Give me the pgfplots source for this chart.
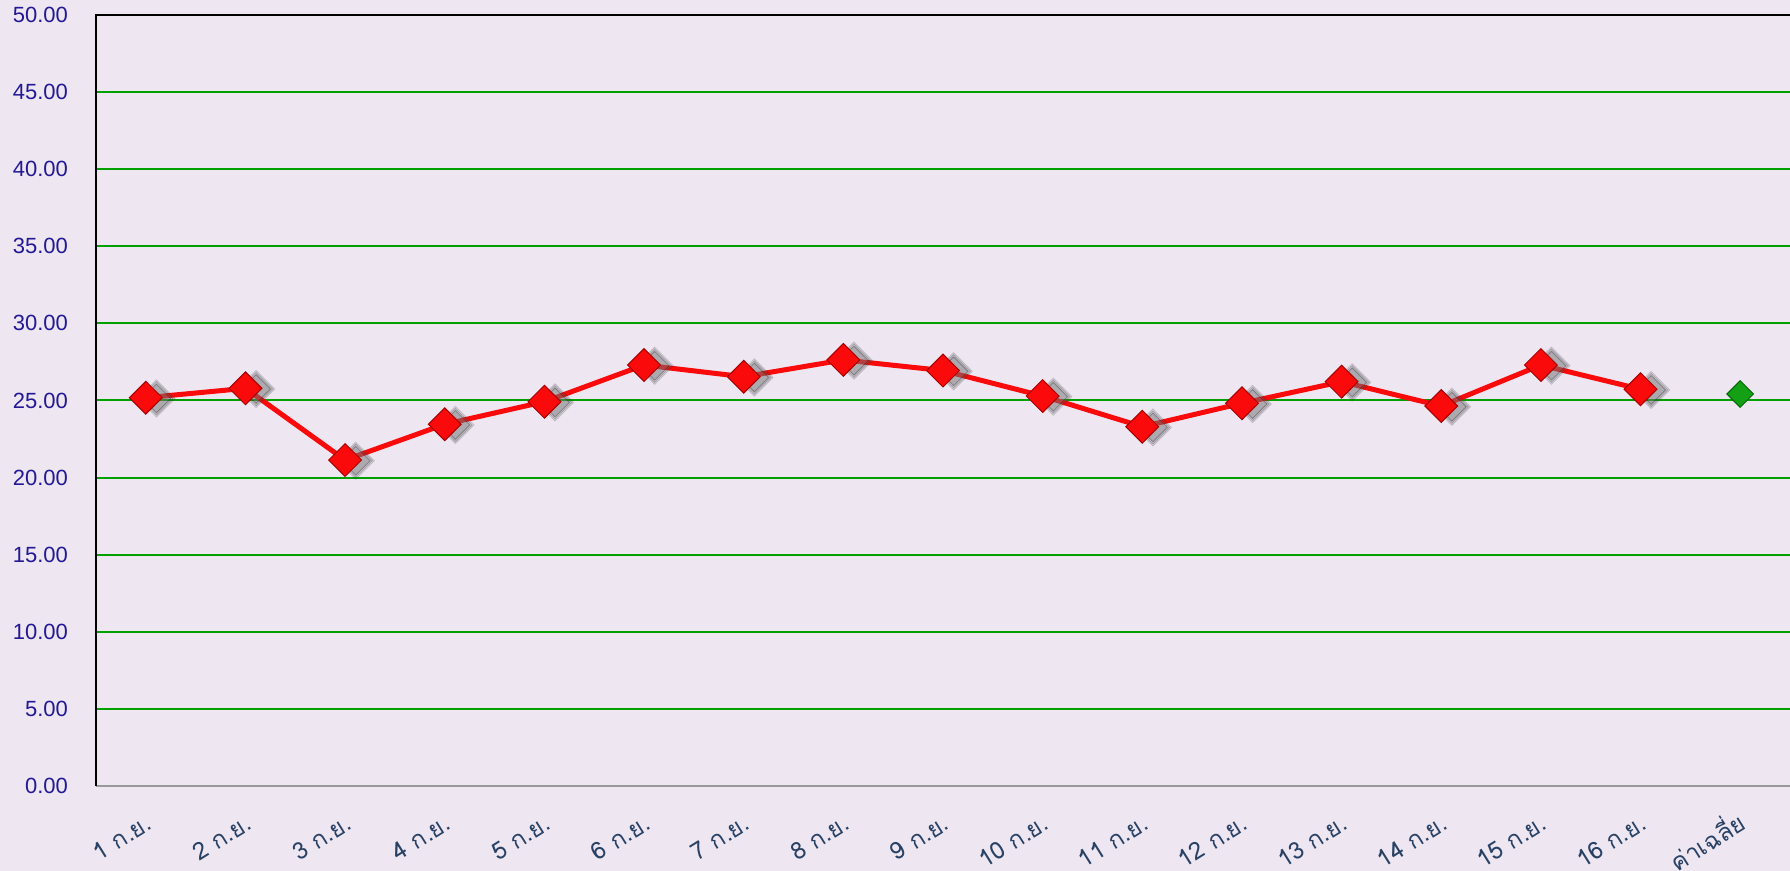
\documentclass[border=0pt]{standalone}
\usepackage{fontspec}
\setmainfont{Liberation Sans}
\newfontfamily\thaifont[Script=Thai]{Loma}
\usepackage{pgfplots}
\usepackage{pgfplotstable}
\pgfplotsset{compat=1.18}
\usetikzlibrary{backgrounds}
\definecolor{bg}{RGB}{238,231,242}
\definecolor{gridg}{RGB}{0,160,0}
\definecolor{ylab}{RGB}{35,25,150}
\definecolor{xlab}{RGB}{40,65,100}
\definecolor{mred}{RGB}{250,10,10}
\definecolor{mgreen}{RGB}{20,160,20}

\pgfplotstableread{
x y
0 25.18
1 25.79
2 21.14
3 23.46
4 24.92
5 27.30
6 26.54
7 27.63
8 26.94
9 25.29
10 23.30
11 24.82
12 26.22
13 24.64
14 27.30
15 25.73
}\daily
\pgfplotstableread{
x y
16 25.42
}\avg

\begin{document}
\begin{tikzpicture}
\begin{axis}[
  scale only axis, width=847pt, height=385.5pt,
  xmin=-0.5, xmax=16.5, ymin=0, ymax=50,
  ytick={0,5,...,50},
  xtick={0,...,16},
  xticklabels={1 ก.ย., 2 ก.ย., 3 ก.ย., 4 ก.ย., 5 ก.ย., 6 ก.ย., 7 ก.ย., 8 ก.ย., 9 ก.ย., 10 ก.ย., 11 ก.ย., 12 ก.ย., 13 ก.ย., 14 ก.ย., 15 ก.ย., 16 ก.ย., ค่าเฉลี่ย},
  axis background/.style={fill=bg},
  ymajorgrids, grid style={gridg, line width=1pt},
  major tick length=0pt,
  axis line style={draw=none},
  yticklabel style={font=\fontsize{11}{13}\selectfont, text=ylab, xshift=-10.5pt},
  /pgf/number format/.cd, fixed, fixed zerofill, precision=2, assume math mode=true,
  /pgfplots/.cd,
  xticklabel style={font=\thaifont\fontsize{12}{14}\selectfont, text=xlab, xshift=4pt, yshift=-21pt, rotate=32, anchor=base east, inner sep=0pt},
  clip=false,
]
\coordinate (sw) at (rel axis cs:0,0);
\coordinate (ne) at (rel axis cs:1,1);
\draw[black!40, line width=1pt] (rel axis cs:0,0) -- (rel axis cs:1,0);
\draw[black, line width=1pt] (rel axis cs:0,0) -- (rel axis cs:0,1) -- (rel axis cs:1,1);
\addplot[only marks, mark=square*, mark size=6.6pt, mark options={rotate=45, xshift=3.5pt, yshift=-4pt, fill=black!55, draw=none, opacity=0.15}] table[x=x,y=y] {\daily};
\addplot[only marks, mark=square*, mark size=5.9pt, mark options={rotate=45, xshift=3.5pt, yshift=-4pt, fill=black!55, draw=none, opacity=0.2}] table[x=x,y=y] {\daily};
\addplot[only marks, mark=square*, mark size=5.1pt, mark options={rotate=45, xshift=3.5pt, yshift=-4pt, fill=black!55, draw=none, opacity=0.3}] table[x=x,y=y] {\daily};
\addplot[mred, line width=2.5pt, mark=square*, mark size=5.8pt, mark options={rotate=45, fill=mred, draw=red!65!black, line width=0.5pt, solid}] table[x=x,y=y] {\daily};
\addplot[only marks, mark=square*, mark size=4.7pt, mark options={rotate=45, fill=mgreen, draw=green!40!black, line width=0.5pt}] table[x=x,y=y] {\avg};
\end{axis}
\pgfresetboundingbox
\path[use as bounding box] ([shift={(-48pt,-42.5pt)}]sw) rectangle ([shift={(0pt,7.5pt)}]ne);
\begin{scope}[on background layer]
\fill[bg] ([shift={(-48pt,-42.5pt)}]sw) rectangle ([shift={(0pt,7.5pt)}]ne);
\end{scope}
\end{tikzpicture}
\end{document}
